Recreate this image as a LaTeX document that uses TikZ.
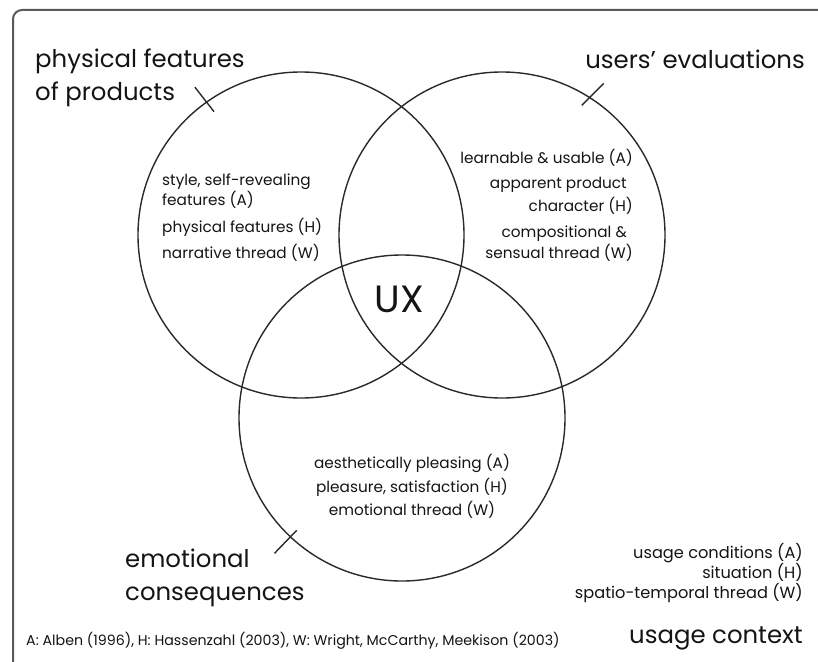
\documentclass[tikz,border=0pt]{standalone}
\usepackage{fontspec}
\setmainfont{Poppins}
\usetikzlibrary{calc}
\definecolor{ink}{HTML}{141414}
\definecolor{lineink}{HTML}{2A2A2A}
\definecolor{framegray}{HTML}{5A5A5A}
\begin{document}
\begin{tikzpicture}[x=1pt,y=1pt,
  circ/.style={circle, draw=lineink, line width=1.4pt, minimum size=326pt, inner sep=0pt},
  ticksty/.style={draw=lineink, line width=1.4pt},
  framesty/.style={draw=framegray, line width=2pt, rounded corners=9pt},
  head/.style={font=\fontsize{24.4}{28}\selectfont, text=ink, inner sep=0pt},
  lab/.style={font=\fontsize{15.3}{18}\selectfont, text=ink, inner sep=0pt},
  ulab/.style={font=\fontsize{16.2}{19}\selectfont, text=ink, inner sep=0pt},
  foot/.style={font=\fontsize{14.2}{16}\selectfont, text=ink, inner sep=0pt},
  big/.style={font=\fontsize{38}{42}\selectfont, text=ink, inner sep=0pt}
]
\useasboundingbox (0,0) rectangle (818,-661);
\draw[framesty] (13,-700) -- (13,-10) -- (860,-10);

% circles
\node[circ] (L) at (301,-235) {};
\node[circ] (R) at (502,-235) {};
\node[circ] (B) at (402,-418) {};

% ticks
\coordinate (tL) at ($(L.center)+(125.4:163)$);
\coordinate (tR) at ($(R.center)+(57.5:163)$);
\coordinate (tB) at ($(B.center)+(226.8:163)$);
\draw[ticksty] ($(tL)+(128:-12)$) -- ($(tL)+(128:19)$);
\draw[ticksty] ($(tR)+(45:-11)$) -- ($(tR)+(45:20)$);
\draw[ticksty] ($(tB)+(226:-9)$) -- ($(tB)+(226:23)$);

% headings
\node[head, anchor=base west] (pf1) at (35,-67) {physical features};
\node[head, anchor=base west] (pf2) at (35,-100) {of products};
\node[head, anchor=base east] (ue) at (805,-68) {users’ evaluations};
\node[head, anchor=base west] (ec1) at (125,-567) {emotional};
\node[head, anchor=base west] (ec2) at (125,-600) {consequences};
\node[head, anchor=base east] (uc) at (803,-643) {usage context};

% left circle texts
\node[lab, anchor=base west] (l1) at (162,-185) {style, self-revealing};
\node[lab, anchor=base west] (l2) at (162,-205) {features (A)};
\node[lab, anchor=base west] (l3) at (162,-232) {physical features (H)};
\node[lab, anchor=base west] (l4) at (162,-258) {narrative thread (W)};

% right circle texts
\node[lab, anchor=base east] (r1) at (633,-163) {learnable \& usable (A)};
\node[lab, anchor=base east] (r2) at (627,-188) {apparent product};
\node[lab, anchor=base east] (r3) at (633,-211) {character (H)};
\node[lab, anchor=base east] (r4) at (627,-237) {compositional \&};
\node[lab, anchor=base east] (r5) at (633,-258) {sensual thread (W)};

% bottom circle texts
\node[lab, anchor=base] (b1) at (412,-468) {aesthetically pleasing (A)};
\node[lab, anchor=base] (b2) at (412,-492) {pleasure, satisfaction (H)};
\node[lab, anchor=base] (b3) at (412,-515) {emotional thread (W)};

% usage context texts
\node[ulab, anchor=base east] (u1) at (803,-558) {usage conditions (A)};
\node[ulab, anchor=base east] (u2) at (803,-578) {situation (H)};
\node[ulab, anchor=base east] (u3) at (803,-598) {spatio-temporal thread (W)};

% footnote
\node[foot, anchor=base west] (fn) at (26,-645) {A: Alben (1996), H: Hassenzahl (2003), W: Wright, McCarthy, Meekison (2003)};

% centre
\node[big, anchor=base] (ux) at (399,-312) {UX};
\end{tikzpicture}
\end{document}
